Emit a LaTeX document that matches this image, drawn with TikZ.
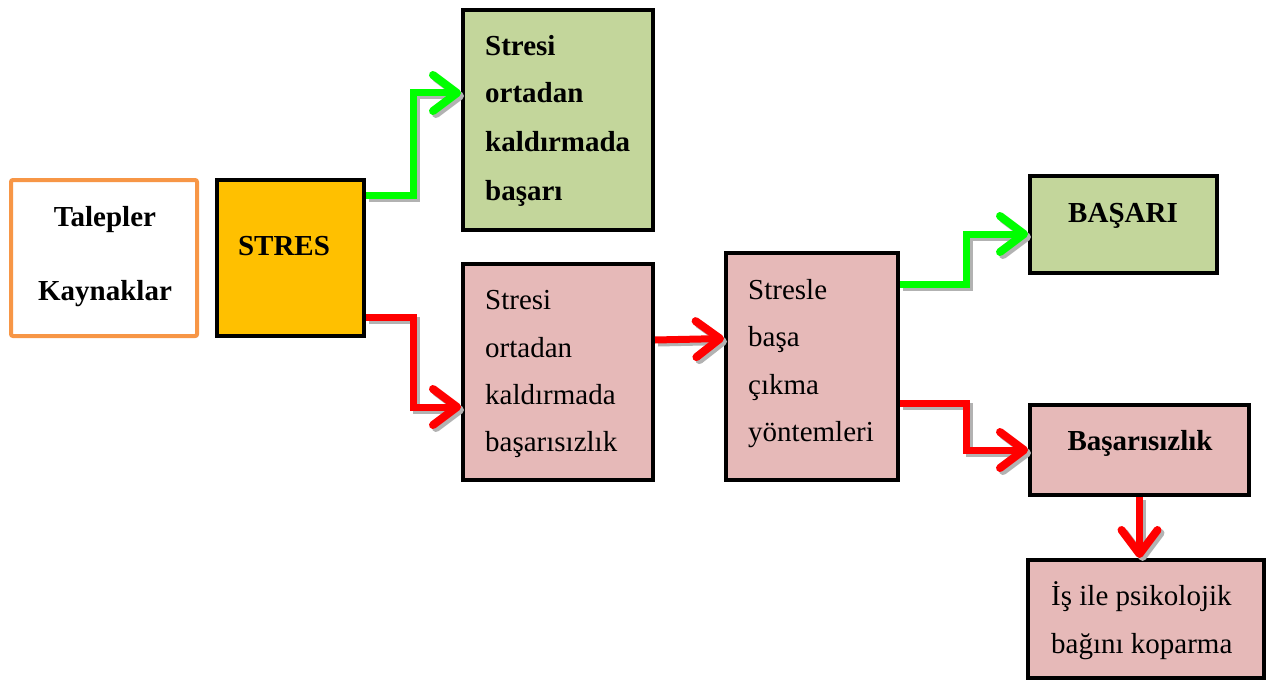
\documentclass[tikz,border=0pt]{standalone}
\usepackage{fontspec}
\setmainfont{Liberation Serif}
\usetikzlibrary{arrows.meta}
\definecolor{gbox}{HTML}{C3D69B}
\definecolor{pbox}{HTML}{E6B9B8}
\definecolor{orng}{HTML}{F79646}
\definecolor{gold}{HTML}{FFC000}
\definecolor{arrg}{HTML}{00FF00}
\definecolor{arrr}{HTML}{FF0000}
\newcommand\myconn[2]{\draw[arr,draw=black!30,transform canvas={shift={(3,3)}}] #2; \draw[arr,#1] #2;}
\tikzset{
  box/.style={draw=black, line width=4pt, inner sep=0pt,
    preaction={fill=black!25, transform canvas={shift={(1.5,1.5)}}}},
  txt/.style={inner sep=0pt, font=\fontsize{29}{34}\selectfont},
  btxt/.style={txt, font=\fontsize{29}{34}\selectfont\bfseries},
  arr/.style={line width=7pt, line join=miter,
    -{Straight Barb[length=24pt,width=36pt,round,line width=8pt]}},
}
\begin{document}
\begin{tikzpicture}[x=1pt,y=-1pt]
\useasboundingbox (0,0) rectangle (1285,682);
% boxes
\node[box, draw=orng, fill=white, rounded corners=2pt, minimum width=186pt, minimum height=156pt] (tal) at (104,258) {};
\node[box, fill=gold, minimum width=147pt, minimum height=156pt] (str) at (290.5,258) {};
\node[box, fill=gbox, minimum width=190pt, minimum height=220pt] (g1) at (558,120) {};
\node[box, fill=pbox, minimum width=190pt, minimum height=216pt] (p1) at (558,372) {};
\node[box, fill=pbox, minimum width=172pt, minimum height=227pt] (mid) at (812,366.5) {};
\node[box, fill=gbox, minimum width=187pt, minimum height=97pt] (bas) at (1123.5,224.5) {};
\node[box, fill=pbox, minimum width=219pt, minimum height=90pt] (fail) at (1139.5,450) {};
\node[box, fill=pbox, minimum width=236pt, minimum height=118pt] (is) at (1146,619) {};
% texts
\node[btxt, anchor=base] (tal1) at (105,226) {Talepler};
\node[btxt, anchor=base] (tal2) at (105,300) {Kaynaklar};
\node[btxt, anchor=base] (strt) at (284,255) {STRES};
\node[btxt, anchor=base west] (g1a) at (485,56) {Stresi};
\node[btxt, anchor=base west] (g1b) at (485,103) {ortadan};
\node[btxt, anchor=base west] (g1c) at (485,152) {kaldırmada};
\node[btxt, anchor=base west] (g1d) at (485,200) {başarı};
\node[txt, anchor=base west] (p1a) at (485,309) {Stresi};
\node[txt, anchor=base west] (p1b) at (485,357) {ortadan};
\node[txt, anchor=base west] (p1c) at (485,404) {kaldırmada};
\node[txt, anchor=base west] (p1d) at (485,451) {başarısızlık};
\node[txt, anchor=base west] (mida) at (748,299) {Stresle};
\node[txt, anchor=base west] (midb) at (748,346) {başa};
\node[txt, anchor=base west] (midc) at (748,394) {çıkma};
\node[txt, anchor=base west] (midd) at (748,441) {yöntemleri};
\node[btxt, anchor=base] (bast) at (1123,222) {BAŞARI};
\node[btxt, anchor=base] (failt) at (1140,450) {Başarısızlık};
\node[txt, anchor=base west] (isa) at (1051,605) {İş ile psikolojik};
\node[txt, anchor=base west] (isb) at (1051,653) {bağını koparma};
% connectors
\myconn{draw=arrg}{([yshift=63pt]str.east) -- ++(47,0) |- ([yshift=27pt]g1.west)}
\myconn{draw=arrr}{([yshift=-59pt]str.east) -- ++(47,0) |- ([yshift=-35pt]p1.west)}
\myconn{draw=arrr}{([yshift=32pt]p1.east) -- ([yshift=28pt]mid.west)}
\myconn{draw=arrg}{([yshift=82.5pt]mid.east) -- ++(66,0) |- ([yshift=-9.5pt]bas.west)}
\myconn{draw=arrr}{([yshift=-36.5pt]mid.east) -- ++(66,0) |- (fail.west)}
\myconn{draw=arrr}{(fail.south) -- (fail.south |- is.north)}
\end{tikzpicture}
\end{document}
